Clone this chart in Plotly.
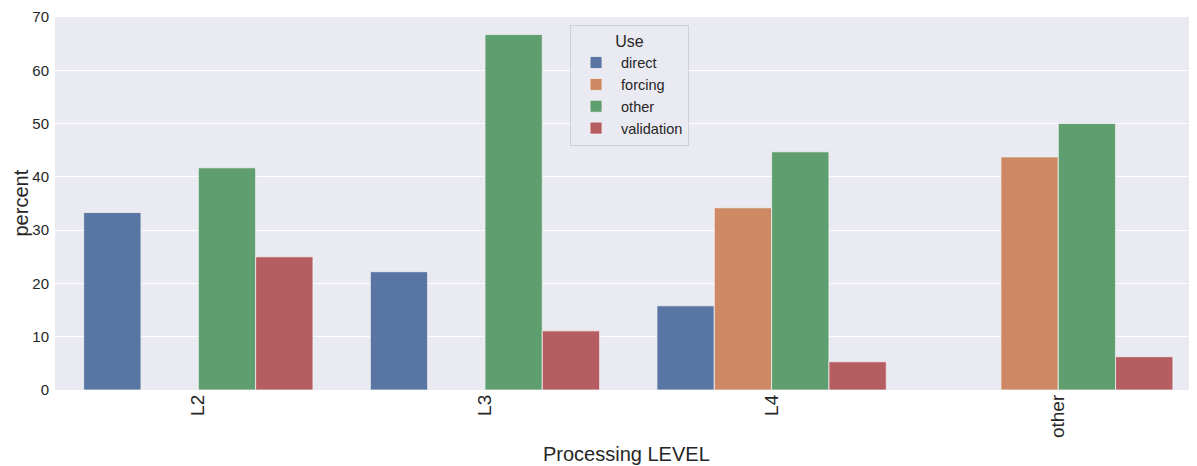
import plotly.graph_objects as go

categories = ["L2", "L3", "L4", "other"]
uses = ["direct", "forcing", "other", "validation"]
direct = [33.3, 22.2, 15.8, None]
forcing = [None, None, 34.2, 43.75]
other = [41.7, 66.7, 44.7, 50.0]
validation = [25.0, 11.1, 5.3, 6.25]
series = [direct, forcing, other, validation]
colors = ["#5975A4", "#CC8963", "#5F9E6E", "#B55D60"]

fig = go.Figure()
for name, vals, col in zip(uses, series, colors):
    fig.add_trace(go.Bar(
        x=categories, y=vals, name=name,
        marker=dict(color=col, line=dict(color="#F2F2F2", width=0.8)),
    ))

font_family = "Liberation Sans, Arial, sans-serif"
# page body has an 8px default margin; compensate so the figure fills the window
fig.update_layout(
    width=1189, height=458,
    margin=dict(l=47, r=0, t=9, b=76),
    paper_bgcolor="white",
    plot_bgcolor="#EAEAF2",
    barmode="group", bargap=0.2, bargroupgap=0,
    font=dict(family=font_family, color="#262626"),
    xaxis=dict(
        range=[-0.5, 3.484], tickangle=-90, showgrid=False,
        tickfont=dict(size=19, color="#262626"),
        ticks="", zeroline=False, automargin=False,
    ),
    yaxis=dict(
        range=[0, 70], dtick=10, gridcolor="white", gridwidth=1,
        tickfont=dict(size=15, color="#262626"),
        ticks="", zeroline=False, automargin=False,
        ticklabelstandoff=5,
    ),
    legend=dict(
        x=0.451, y=0.979, xanchor="left", yanchor="top",
        bgcolor="#EAEAF2", bordercolor="#D0D0D8", borderwidth=1,
        font=dict(size=14.5, color="#262626"),
        title=dict(text="Use", font=dict(size=16), side="top center"),
        itemwidth=40,
    ),
    showlegend=True,
    annotations=[
        dict(text="Processing LEVEL", xref="paper", yref="paper", x=0.5, y=0,
             yshift=-64, xanchor="center", yanchor="middle", showarrow=False,
             font=dict(size=20, color="#262626")),
        dict(text="percent", xref="paper", yref="paper", x=0, y=0.5,
             xshift=-35, xanchor="center", yanchor="middle", textangle=-90,
             showarrow=False, font=dict(size=20, color="#262626")),
    ],
)

fig.write_html("out.html")
